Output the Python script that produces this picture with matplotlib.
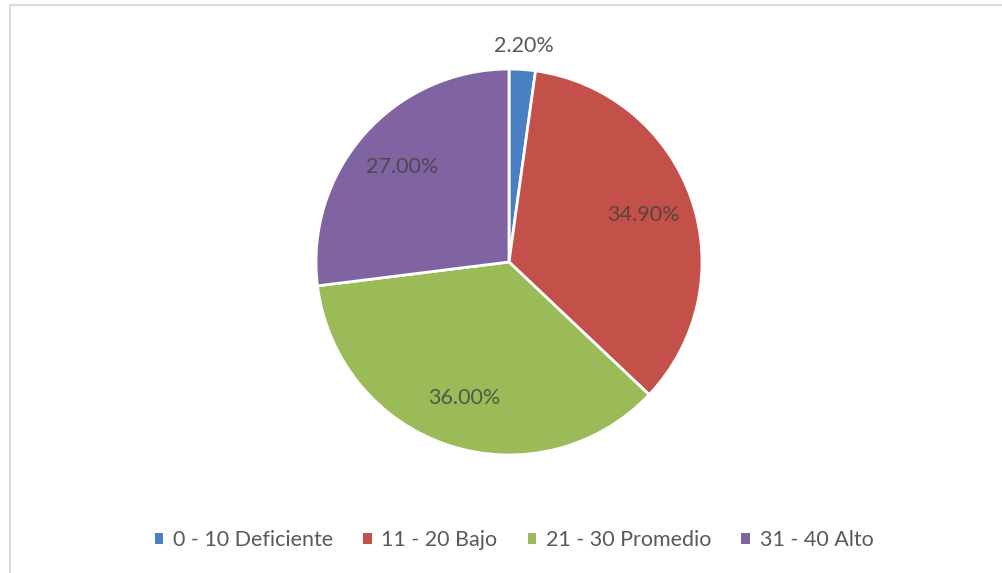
import numpy as np
import matplotlib.pyplot as plt
from matplotlib.patches import Rectangle

# Distribución por rangos de puntaje
categorias = ['0 - 10 Deficiente', '11 - 20 Bajo', '21 - 30 Promedio', '31 - 40 Alto']
porcentajes = [2.2, 34.9, 36.0, 27.0]
colores = ['#4a7fc4', '#c4504a', '#9bbb59', '#8064a2']

plt.rcParams['font.family'] = ['Lato', 'DejaVu Sans']

fig = plt.figure(figsize=(10.02, 5.73), dpi=100)

# Marco del gráfico
fig.patches.append(Rectangle((10 / 1002, -0.05), 1.1, (573 - 5) / 573 + 0.05,
                             transform=fig.transFigure, fill=False,
                             edgecolor='#d9d9d9', linewidth=1.5))

cx, cy, r = 509, 262, 193
ax = fig.add_axes([(cx - r) / 1002, (573 - cy - r) / 573, 2 * r / 1002, 2 * r / 573])
wedges, _ = ax.pie(porcentajes, colors=colores, startangle=90, counterclock=False,
                   radius=1, wedgeprops=dict(edgecolor='white', linewidth=2))
ax.set_xlim(-1, 1)
ax.set_ylim(-1, 1)
ax.set_aspect('equal')
ax.axis('off')

# Etiquetas de porcentaje
for w, p in zip(wedges, porcentajes):
    ang = np.deg2rad((w.theta1 + w.theta2) / 2)
    if p < 5:
        d, col = 1.12, '#595959'
    else:
        d, col = 0.74, '#404040'
    ax.text(d * np.cos(ang), d * np.sin(ang), f'{p:.2f}%', ha='center', va='center',
            fontsize=15.5, color=col, alpha=0.8 if p >= 5 else 1, clip_on=False)

leg = fig.legend(wedges, categorias, loc='center', bbox_to_anchor=(514 / 1002, 1 - 540 / 573),
                 ncol=4, frameon=False, fontsize=15.5, handlelength=0.4, handleheight=0.4,
                 handletextpad=0.45, columnspacing=1.4)
for t in leg.get_texts():
    t.set_color('#595959')
for h in leg.legend_handles:
    h.set_edgecolor('none')

fig.savefig('out.png', dpi=100)
